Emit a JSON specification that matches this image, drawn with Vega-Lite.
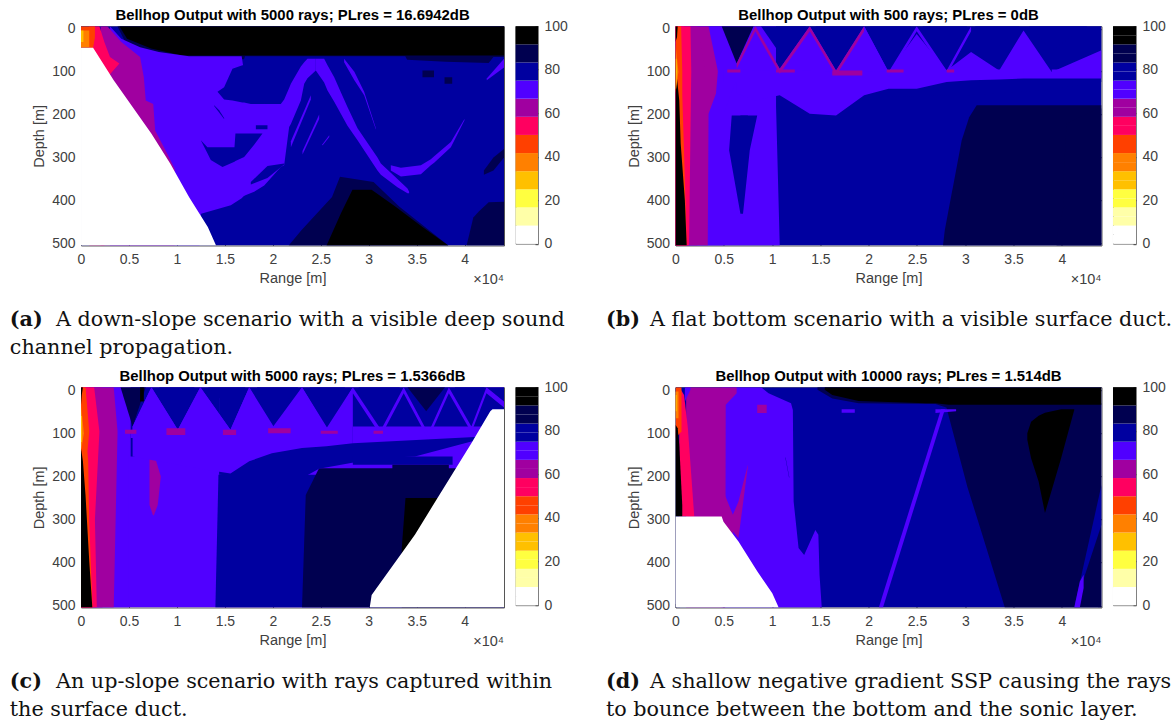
{"$schema":"https://vega.github.io/schema/vega-lite/v6.json","padding":{"left":9,"top":7.2,"right":0,"bottom":0},"background":"white","config":{"view":{"stroke":null},"font":"Liberation Sans","title":{"font":"Liberation Sans","fontSize":14.9,"fontWeight":"bold","color":"#000000","offset":-1,"anchor":"middle"},"axis":{"labelFont":"Liberation Sans","titleFont":"Liberation Sans","labelFontSize":14,"titleFontSize":14.5,"titleFontWeight":"normal","labelColor":"#404040","titleColor":"#404040","domainColor":"#555555","tickColor":"#404040","tickSize":-4,"domainWidth":1,"grid":false,"zindex":1}},
"bounds":"flush","align":"each","spacing":{"row":0,"column":11.5},"columns":5,
"datasets":{
"cb12":[{"lo":0,"hi":8.33,"v":4},{"lo":8.33,"hi":16.67,"v":12},{"lo":16.67,"hi":25,"v":21},{"lo":25,"hi":33.33,"v":29},{"lo":33.33,"hi":41.67,"v":38},{"lo":41.67,"hi":50,"v":46},{"lo":50,"hi":58.33,"v":54},{"lo":58.33,"hi":66.67,"v":62},{"lo":66.67,"hi":75,"v":71},{"lo":75,"hi":83.33,"v":79},{"lo":83.33,"hi":91.67,"v":88},{"lo":91.67,"hi":100,"v":96}],
"cb24":[{"lo":0,"hi":4.17,"v":2},{"lo":4.17,"hi":8.33,"v":6},{"lo":8.33,"hi":12.5,"v":10},{"lo":12.5,"hi":16.67,"v":15},{"lo":16.67,"hi":20.83,"v":19},{"lo":20.83,"hi":25,"v":23},{"lo":25,"hi":29.17,"v":27},{"lo":29.17,"hi":33.33,"v":31},{"lo":33.33,"hi":37.5,"v":35},{"lo":37.5,"hi":41.67,"v":40},{"lo":41.67,"hi":45.83,"v":44},{"lo":45.83,"hi":50,"v":48},{"lo":50,"hi":54.17,"v":52},{"lo":54.17,"hi":58.33,"v":56},{"lo":58.33,"hi":62.5,"v":60},{"lo":62.5,"hi":66.67,"v":65},{"lo":66.67,"hi":70.83,"v":69},{"lo":70.83,"hi":75,"v":73},{"lo":75,"hi":79.17,"v":77},{"lo":79.17,"hi":83.33,"v":81},{"lo":83.33,"hi":87.5,"v":85},{"lo":87.5,"hi":91.67,"v":90},{"lo":91.67,"hi":95.83,"v":94},{"lo":95.83,"hi":100,"v":98}],
"a":[
{"r":1,"x":0,"y":-6,"y2":505,"v":79},{"r":1,"x":44100,"y":-6,"y2":505,"v":79},
{"r":2,"x":3800,"y":-6,"y2":-6,"v":88},{"r":2,"x":4590,"y":-6,"y2":30,"v":88},{"r":2,"x":7000,"y":-6,"y2":52,"v":88},{"r":2,"x":10500,"y":-6,"y2":71,"v":88},{"r":2,"x":17000,"y":-6,"y2":71,"v":88},{"r":2,"x":17100,"y":-6,"y2":64,"v":88},{"r":2,"x":33800,"y":-6,"y2":64,"v":88},{"r":2,"x":34000,"y":-6,"y2":72,"v":88},{"r":2,"x":38000,"y":-6,"y2":77,"v":88},{"r":2,"x":42500,"y":-6,"y2":80,"v":88},{"r":2,"x":43000,"y":-6,"y2":66,"v":88},{"r":2,"x":44100,"y":-6,"y2":66,"v":88},
{"r":3,"x":4000,"y":-6,"y2":-6,"v":96},{"r":3,"x":4800,"y":-6,"y2":23,"v":96},{"r":3,"x":7300,"y":-6,"y2":46,"v":96},{"r":3,"x":10500,"y":-6,"y2":62,"v":96},{"r":3,"x":44100,"y":-6,"y2":62,"v":96},
{"r":4,"x":21650,"y":505,"y2":505,"v":88},{"r":4,"x":23000,"y":469,"y2":505,"v":88},{"r":4,"x":26170,"y":392,"y2":505,"v":88},{"r":4,"x":27000,"y":345,"y2":505,"v":88},{"r":4,"x":30500,"y":357,"y2":505,"v":88},{"r":4,"x":33200,"y":415,"y2":505,"v":88},{"r":4,"x":38300,"y":505,"y2":505,"v":88},
{"r":5,"x":25600,"y":505,"y2":505,"v":96},{"r":5,"x":27100,"y":430,"y2":505,"v":96},{"r":5,"x":28300,"y":375,"y2":505,"v":96},{"r":5,"x":30300,"y":375,"y2":505,"v":96},{"r":5,"x":32800,"y":415,"y2":505,"v":96},{"r":5,"x":35600,"y":462,"y2":505,"v":96},{"r":5,"x":38300,"y":505,"y2":505,"v":96},
{"r":6,"x":40200,"y":505,"y2":505,"v":88},{"r":6,"x":40900,"y":440,"y2":505,"v":88},{"r":6,"x":41500,"y":425,"y2":505,"v":88},{"r":6,"x":42500,"y":404,"y2":505,"v":88},{"r":6,"x":44100,"y":403,"y2":505,"v":88},
{"r":7,"x":35600,"y":97,"y2":113,"v":88},{"r":7,"x":36800,"y":97,"y2":113,"v":88},
{"r":8,"x":37900,"y":113,"y2":128,"v":88},{"r":8,"x":38700,"y":113,"y2":128,"v":88},
{"r":9,"x":42000,"y":330,"y2":340,"v":88},{"r":9,"x":43000,"y":300,"y2":330,"v":88},{"r":9,"x":44100,"y":280,"y2":300,"v":88},
{"r":10,"x":3020,"y":-6,"y2":505,"v":71},{"r":10,"x":4200,"y":23,"y2":505,"v":71},{"r":10,"x":6160,"y":43,"y2":505,"v":71},{"r":10,"x":8120,"y":54,"y2":505,"v":71},{"r":10,"x":11260,"y":64,"y2":505,"v":71},{"r":10,"x":12360,"y":64,"y2":505,"v":71},{"r":10,"x":12520,"y":64,"y2":431,"v":71},{"r":10,"x":15620,"y":64,"y2":411,"v":71},{"r":10,"x":16750,"y":64,"y2":395,"v":71},{"r":10,"x":16950,"y":93,"y2":390,"v":71},{"r":10,"x":17140,"y":97,"y2":388,"v":71},{"r":10,"x":18050,"y":130,"y2":380,"v":71},{"r":10,"x":19100,"y":175,"y2":365,"v":71},{"r":10,"x":20830,"y":175,"y2":322,"v":71},{"r":10,"x":21180,"y":165,"y2":318,"v":71},{"r":10,"x":21700,"y":138,"y2":229,"v":71},{"r":10,"x":21880,"y":128,"y2":222,"v":71},{"r":10,"x":22920,"y":88,"y2":167,"v":71},{"r":10,"x":23270,"y":78,"y2":128,"v":71},{"r":10,"x":23610,"y":70,"y2":115,"v":71},{"r":10,"x":24480,"y":70,"y2":97,"v":71},
{"r":11,"x":14230,"y":147,"y2":147,"v":79},{"r":11,"x":14920,"y":136,"y2":165,"v":79},{"r":11,"x":15790,"y":93,"y2":167,"v":79},{"r":11,"x":16830,"y":85,"y2":172,"v":79},{"r":11,"x":17000,"y":85,"y2":172,"v":79},{"r":11,"x":17700,"y":100,"y2":175,"v":79},{"r":11,"x":19100,"y":170,"y2":175,"v":79},
{"r":12,"x":18230,"y":225,"y2":234,"v":79},{"r":12,"x":19440,"y":225,"y2":234,"v":79},
{"r":13,"x":12490,"y":260,"y2":260,"v":79},{"r":13,"x":13180,"y":276,"y2":290,"v":79},{"r":13,"x":13530,"y":276,"y2":306,"v":79},{"r":13,"x":14750,"y":276,"y2":322,"v":79},{"r":13,"x":16000,"y":276,"y2":310,"v":79},{"r":13,"x":16100,"y":244,"y2":308,"v":79},{"r":13,"x":17010,"y":244,"y2":299,"v":79},{"r":13,"x":18050,"y":244,"y2":270,"v":79},{"r":13,"x":18920,"y":244,"y2":244,"v":79},
{"r":14,"x":17700,"y":357,"y2":363,"v":79},{"r":14,"x":19440,"y":320,"y2":348,"v":79},{"r":14,"x":21180,"y":314,"y2":316,"v":79},
{"r":26,"x":13880,"y":178,"y2":180,"v":79},{"r":26,"x":14400,"y":190,"y2":195,"v":79},{"r":26,"x":14920,"y":208,"y2":210,"v":79},
{"r":15,"x":24480,"y":70,"y2":97,"v":71},{"r":15,"x":25350,"y":70,"y2":125,"v":71},{"r":15,"x":25700,"y":85,"y2":144,"v":71},{"r":15,"x":26400,"y":113,"y2":170,"v":71},{"r":15,"x":27090,"y":148,"y2":198,"v":71},{"r":15,"x":27780,"y":182,"y2":226,"v":71},{"r":15,"x":28830,"y":232,"y2":260,"v":71},{"r":15,"x":30910,"y":300,"y2":330,"v":71},{"r":15,"x":31260,"y":314,"y2":340,"v":71},{"r":15,"x":32990,"y":350,"y2":369,"v":71},{"r":15,"x":34040,"y":372,"y2":383,"v":71},{"r":15,"x":34210,"y":380,"y2":383,"v":71},
{"r":16,"x":32300,"y":318,"y2":330,"v":71},{"r":16,"x":33350,"y":324,"y2":344,"v":71},{"r":16,"x":35430,"y":318,"y2":339,"v":71},{"r":16,"x":36470,"y":304,"y2":318,"v":71},{"r":16,"x":36820,"y":297,"y2":312,"v":71},{"r":16,"x":38560,"y":264,"y2":276,"v":71},{"r":16,"x":39980,"y":210,"y2":213,"v":71},
{"r":17,"x":27430,"y":70,"y2":78,"v":71},{"r":17,"x":28500,"y":100,"y2":120,"v":71},{"r":17,"x":29520,"y":147,"y2":155,"v":71},{"r":17,"x":30740,"y":232,"y2":235,"v":71},
{"r":18,"x":21880,"y":262,"y2":276,"v":71},{"r":18,"x":23960,"y":155,"y2":165,"v":71},
{"r":27,"x":23090,"y":285,"y2":293,"v":71},{"r":27,"x":24830,"y":200,"y2":210,"v":71},
{"r":28,"x":25180,"y":269,"y2":272,"v":71},{"r":28,"x":25880,"y":248,"y2":252,"v":71},
{"r":19,"x":42300,"y":116,"y2":120,"v":71},{"r":19,"x":44100,"y":70,"y2":90,"v":71},
{"r":20,"x":2040,"y":-6,"y2":505,"v":62},{"r":20,"x":2750,"y":-6,"y2":505,"v":62},{"r":20,"x":4200,"y":31,"y2":505,"v":62},{"r":20,"x":6160,"y":66,"y2":505,"v":62},{"r":20,"x":6550,"y":113,"y2":505,"v":62},{"r":20,"x":6750,"y":167,"y2":505,"v":62},{"r":20,"x":7530,"y":175,"y2":505,"v":62},{"r":20,"x":7730,"y":237,"y2":505,"v":62},{"r":20,"x":8710,"y":279,"y2":505,"v":62},{"r":20,"x":9770,"y":326,"y2":505,"v":62},
{"r":21,"x":860,"y":-6,"y2":505,"v":54},{"r":21,"x":1920,"y":-6,"y2":505,"v":54},{"r":21,"x":2430,"y":31,"y2":505,"v":54},{"r":21,"x":3020,"y":66,"y2":106,"v":54},{"r":21,"x":4000,"y":81,"y2":81,"v":54},
{"r":22,"x":0,"y":-6,"y2":44,"v":46},{"r":22,"x":1260,"y":-6,"y2":44,"v":46},{"r":22,"x":1450,"y":-6,"y2":20,"v":46},
{"r":23,"x":0,"y":4,"y2":43,"v":38},{"r":23,"x":860,"y":4,"y2":43,"v":38},
{"r":24,"x":0,"y":4,"y2":31,"v":29},{"r":24,"x":250,"y":4,"y2":31,"v":29},
{"r":25,"x":0,"y":44,"y2":505,"v":4},{"r":25,"x":1260,"y":44,"y2":505,"v":4},{"r":25,"x":3410,"y":120,"y2":505,"v":4},{"r":25,"x":7330,"y":244,"y2":505,"v":4},{"r":25,"x":9300,"y":314,"y2":505,"v":4},{"r":25,"x":11260,"y":392,"y2":505,"v":4},{"r":25,"x":13220,"y":462,"y2":505,"v":4},{"r":25,"x":14080,"y":505,"y2":505,"v":4}
],
"b_h":[
{"r":1,"y":-6,"x":0,"x2":44100,"v":81},{"r":1,"y":505,"x":0,"x2":44100,"v":81},
{"r":2,"y":178,"x":31180,"x2":44100,"v":85},{"r":2,"y":206,"x":30400,"x2":44100,"v":85},{"r":2,"y":260,"x":29630,"x2":44100,"v":85},{"r":2,"y":469,"x":27880,"x2":44100,"v":85},{"r":2,"y":505,"x":27690,"x2":44100,"v":85},
{"r":3,"y":186,"x":43800,"x2":44100,"v":90},{"r":3,"y":221,"x":40500,"x2":44100,"v":90},{"r":3,"y":369,"x":40110,"x2":44100,"v":90},{"r":3,"y":415,"x":40230,"x2":44100,"v":90},{"r":3,"y":477,"x":39530,"x2":44100,"v":90},{"r":3,"y":505,"x":39450,"x2":44100,"v":90},
{"r":4,"y":-6,"x":0,"x2":10410,"v":73},{"r":4,"y":181,"x":0,"x2":10410,"v":73},{"r":4,"y":505,"x":0,"x2":10790,"v":73},
{"r":5,"y":202,"x":5820,"x2":8460,"v":77},{"r":5,"y":283,"x":5550,"x2":7690,"v":77},{"r":5,"y":431,"x":6720,"x2":6990,"v":77},
{"r":6,"y":202,"x":6720,"x2":7490,"v":81},{"r":6,"y":283,"x":6800,"x2":7490,"v":81},{"r":6,"y":290,"x":7100,"x2":7200,"v":81},
{"r":7,"y":-6,"x":0,"x2":4780,"v":69},{"r":7,"y":99,"x":0,"x2":6520,"v":69},{"r":7,"y":128,"x":0,"x2":6140,"v":69},{"r":7,"y":198,"x":0,"x2":4970,"v":69},{"r":7,"y":505,"x":0,"x2":4970,"v":69},
{"r":8,"y":-6,"x":0,"x2":3420,"v":65},{"r":8,"y":99,"x":0,"x2":4390,"v":65},{"r":8,"y":151,"x":0,"x2":4190,"v":65},{"r":8,"y":198,"x":0,"x2":3420,"v":65},{"r":8,"y":505,"x":0,"x2":3340,"v":65},
{"r":9,"y":-6,"x":0,"x2":2250,"v":60},{"r":9,"y":99,"x":0,"x2":3030,"v":60},{"r":9,"y":505,"x":0,"x2":2250,"v":60},
{"r":10,"y":-6,"x":0,"x2":1550,"v":56},{"r":10,"y":99,"x":0,"x2":1630,"v":56},{"r":10,"y":505,"x":0,"x2":1400,"v":56},
{"r":11,"y":-6,"x":0,"x2":890,"v":52},{"r":11,"y":99,"x":0,"x2":1090,"v":52},{"r":11,"y":260,"x":0,"x2":1090,"v":52},{"r":11,"y":505,"x":0,"x2":1200,"v":52},
{"r":12,"y":-6,"x":0,"x2":580,"v":48},{"r":12,"y":99,"x":0,"x2":700,"v":48},{"r":12,"y":155,"x":0,"x2":700,"v":48},{"r":12,"y":260,"x":0,"x2":850,"v":48},{"r":12,"y":505,"x":0,"x2":1170,"v":48},
{"r":13,"y":-6,"x":0,"x2":230,"v":98},{"r":13,"y":19,"x":0,"x2":160,"v":98},{"r":13,"y":31,"x":0,"x2":0,"v":98},{"r":13,"y":89,"x":0,"x2":40,"v":98},{"r":13,"y":167,"x":0,"x2":390,"v":98},{"r":13,"y":268,"x":0,"x2":540,"v":98},{"r":13,"y":400,"x":0,"x2":970,"v":98},{"r":13,"y":505,"x":0,"x2":1160,"v":98},
{"r":14,"y":35,"x":0,"x2":0,"v":35},{"r":14,"y":100,"x":0,"x2":300,"v":35},{"r":14,"y":150,"x":0,"x2":0,"v":35},
{"r":15,"y":70,"x":0,"x2":100,"v":27},{"r":15,"y":100,"x":0,"x2":150,"v":27},{"r":15,"y":140,"x":0,"x2":60,"v":27}
],
"b_v":[
{"r":1,"x":10410,"y":-6,"y2":155,"v":77},{"r":1,"x":14290,"y":-6,"y2":198,"v":77},{"r":1,"x":16620,"y":-6,"y2":202,"v":77},{"r":1,"x":18370,"y":-6,"y2":159,"v":77},{"r":1,"x":30210,"y":-6,"y2":155,"v":77},{"r":1,"x":37980,"y":-6,"y2":144,"v":77},{"r":1,"x":44100,"y":-6,"y2":124,"v":77},
{"r":2,"x":6330,"y":81,"y2":151,"v":73},{"r":2,"x":8270,"y":-6,"y2":167,"v":73},{"r":2,"x":10790,"y":93,"y2":155,"v":73},{"r":2,"x":13900,"y":-6,"y2":198,"v":73},{"r":2,"x":16620,"y":97,"y2":202,"v":73},{"r":2,"x":19530,"y":-6,"y2":155,"v":73},{"r":2,"x":22060,"y":101,"y2":140,"v":73},{"r":2,"x":24970,"y":12,"y2":140,"v":73},{"r":2,"x":28070,"y":97,"y2":124,"v":73},{"r":2,"x":30600,"y":54,"y2":120,"v":73},{"r":2,"x":33510,"y":97,"y2":118,"v":73},{"r":2,"x":36030,"y":4,"y2":116,"v":73},{"r":2,"x":38950,"y":101,"y2":116,"v":73},{"r":2,"x":44100,"y":50,"y2":116,"v":73},
{"r":3,"x":4780,"y":-6,"y2":-6,"v":85},{"r":3,"x":6330,"y":-6,"y2":81,"v":85},{"r":3,"x":8080,"y":-6,"y2":-6,"v":85},
{"r":4,"x":8850,"y":-6,"y2":-6,"v":81},{"r":4,"x":11180,"y":-6,"y2":70,"v":81},{"r":4,"x":13510,"y":-6,"y2":-6,"v":81},
{"r":5,"x":14480,"y":-6,"y2":-6,"v":81},{"r":5,"x":16620,"y":-6,"y2":50,"v":81},{"r":5,"x":19140,"y":-6,"y2":-6,"v":81},
{"r":6,"x":20110,"y":-6,"y2":-6,"v":81},{"r":6,"x":22060,"y":-6,"y2":50,"v":81},{"r":6,"x":24390,"y":-6,"y2":-6,"v":81},
{"r":7,"x":25550,"y":-6,"y2":-6,"v":81},{"r":7,"x":28070,"y":-6,"y2":50,"v":81},{"r":7,"x":30210,"y":-6,"y2":-6,"v":81},
{"r":8,"x":30990,"y":-6,"y2":-6,"v":81},{"r":8,"x":33510,"y":-6,"y2":40,"v":81},{"r":8,"x":35650,"y":-6,"y2":-6,"v":81},
{"r":9,"x":36610,"y":-6,"y2":-6,"v":81},{"r":9,"x":38950,"y":-6,"y2":50,"v":81},{"r":9,"x":42640,"y":-6,"y2":-6,"v":81},
{"r":10,"x":4970,"y":95,"y2":124,"v":69},{"r":10,"x":22440,"y":101,"y2":124,"v":69},{"r":10,"x":24000,"y":101,"y2":108,"v":69},
{"r":11,"x":6330,"y":81,"y2":93,"v":65},{"r":11,"x":8270,"y":-6,"y2":6,"v":65},{"r":11,"x":10790,"y":93,"y2":105,"v":65},{"r":11,"x":13900,"y":-6,"y2":6,"v":65},{"r":11,"x":16620,"y":97,"y2":109,"v":65},{"r":11,"x":19530,"y":-6,"y2":6,"v":65},
{"r":12,"x":19530,"y":-6,"y2":6,"v":69},{"r":12,"x":22060,"y":101,"y2":113,"v":69},{"r":12,"x":24970,"y":-6,"y2":6,"v":69},{"r":12,"x":28070,"y":97,"y2":109,"v":69},{"r":12,"x":30600,"y":-6,"y2":6,"v":69},
{"r":13,"x":5360,"y":95,"y2":102,"v":60},{"r":13,"x":6720,"y":95,"y2":102,"v":60},
{"r":14,"x":10410,"y":95,"y2":102,"v":65},{"r":14,"x":12350,"y":95,"y2":102,"v":65},
{"r":15,"x":16230,"y":97,"y2":109,"v":65},{"r":15,"x":19340,"y":97,"y2":109,"v":65},
{"r":16,"x":21860,"y":95,"y2":102,"v":65},{"r":16,"x":23610,"y":95,"y2":102,"v":65},
{"r":17,"x":28070,"y":95,"y2":102,"v":65},{"r":17,"x":28850,"y":95,"y2":102,"v":65},
{"r":18,"x":33120,"y":95,"y2":102,"v":69},{"r":18,"x":36030,"y":95,"y2":102,"v":69},
{"r":19,"x":38950,"y":95,"y2":102,"v":69},{"r":19,"x":40690,"y":95,"y2":102,"v":69}
],
"c_h":[
{"r":1,"y":-7,"x":0,"x2":44100,"v":73},{"r":1,"y":504,"x":0,"x2":44100,"v":73},
{"r":2,"y":196,"x":14330,"x2":44100,"v":81},{"r":2,"y":504,"x":14010,"x2":44100,"v":81},
{"r":3,"y":181,"x":24810,"x2":44100,"v":85},{"r":3,"y":243,"x":23430,"x2":44100,"v":85},{"r":3,"y":504,"x":23040,"x2":44100,"v":85},
{"r":4,"y":235,"x":30100,"x2":44100,"v":90},{"r":4,"y":504,"x":30030,"x2":44100,"v":90},
{"r":5,"y":250,"x":33830,"x2":44100,"v":94},{"r":5,"y":366,"x":33440,"x2":44100,"v":94},{"r":5,"y":504,"x":33440,"x2":44100,"v":94},
{"r":6,"y":250,"x":35400,"x2":44100,"v":98},{"r":6,"y":300,"x":35400,"x2":44100,"v":98},
{"r":7,"y":-7,"x":0,"x2":4200,"v":69},{"r":7,"y":96,"x":0,"x2":5180,"v":69},{"r":7,"y":154,"x":0,"x2":4980,"v":69},{"r":7,"y":504,"x":0,"x2":4980,"v":69},
{"r":8,"y":142,"x":7140,"x2":7540,"v":65},{"r":8,"y":200,"x":7140,"x2":8320,"v":65},{"r":8,"y":266,"x":7140,"x2":8000,"v":65},{"r":8,"y":290,"x":7500,"x2":7600,"v":65},
{"r":9,"y":-7,"x":0,"x2":3410,"v":65},{"r":9,"y":96,"x":0,"x2":3810,"v":65},{"r":9,"y":504,"x":0,"x2":3410,"v":65},
{"r":10,"y":-7,"x":0,"x2":2240,"v":60},{"r":10,"y":96,"x":0,"x2":2630,"v":60},{"r":10,"y":504,"x":0,"x2":2240,"v":60},
{"r":11,"y":-7,"x":0,"x2":1370,"v":56},{"r":11,"y":96,"x":0,"x2":1920,"v":56},{"r":11,"y":300,"x":0,"x2":1450,"v":56},{"r":11,"y":504,"x":0,"x2":1650,"v":56},
{"r":12,"y":-7,"x":0,"x2":860,"v":52},{"r":12,"y":96,"x":0,"x2":1370,"v":52},{"r":12,"y":165,"x":0,"x2":1260,"v":52},{"r":12,"y":504,"x":0,"x2":1260,"v":52},
{"r":13,"y":-7,"x":0,"x2":470,"v":48},{"r":13,"y":96,"x":0,"x2":860,"v":48},{"r":13,"y":142,"x":0,"x2":670,"v":48},{"r":13,"y":165,"x":0,"x2":750,"v":48},{"r":13,"y":300,"x":0,"x2":850,"v":48},{"r":13,"y":504,"x":0,"x2":1200,"v":48},
{"r":14,"y":-7,"x":0,"x2":200,"v":98},{"r":14,"y":11,"x":0,"x2":80,"v":98},{"r":14,"y":34,"x":0,"x2":0,"v":98},{"r":14,"y":134,"x":0,"x2":0,"v":98},{"r":14,"y":165,"x":0,"x2":200,"v":98},{"r":14,"y":243,"x":0,"x2":470,"v":98},{"r":14,"y":397,"x":0,"x2":860,"v":98},{"r":14,"y":504,"x":0,"x2":1180,"v":98},
{"r":15,"y":34,"x":0,"x2":0,"v":35},{"r":15,"y":100,"x":0,"x2":300,"v":35},{"r":15,"y":142,"x":0,"x2":0,"v":35},
{"r":16,"y":60,"x":0,"x2":100,"v":27},{"r":16,"y":120,"x":0,"x2":100,"v":27}
],
"c_v":[
{"r":1,"x":14400,"y":-7,"y2":196,"v":77},{"r":1,"x":16760,"y":-7,"y2":200,"v":77},{"r":1,"x":18720,"y":-7,"y2":231,"v":77},{"r":1,"x":20290,"y":-7,"y2":227,"v":77},{"r":1,"x":23040,"y":-7,"y2":204,"v":77},{"r":1,"x":24810,"y":-7,"y2":182,"v":77},{"r":1,"x":30890,"y":-7,"y2":158,"v":77},{"r":1,"x":34810,"y":-7,"y2":154,"v":77},{"r":1,"x":40700,"y":-7,"y2":119,"v":77},{"r":1,"x":44100,"y":-7,"y2":119,"v":77},
{"r":2,"x":5180,"y":-7,"y2":154,"v":77},{"r":2,"x":14400,"y":-7,"y2":154,"v":77},
{"r":3,"x":28340,"y":154,"y2":173,"v":81},{"r":3,"x":38740,"y":154,"y2":173,"v":81},
{"r":4,"x":32460,"y":173,"y2":196,"v":85},{"r":4,"x":38350,"y":173,"y2":196,"v":85},
{"r":5,"x":36000,"y":196,"y2":227,"v":90},{"r":5,"x":38740,"y":196,"y2":227,"v":90},
{"r":6,"x":5380,"y":84,"y2":154,"v":73},{"r":6,"x":7340,"y":-7,"y2":162,"v":73},{"r":6,"x":10090,"y":92,"y2":173,"v":73},{"r":6,"x":12440,"y":-7,"y2":182,"v":73},{"r":6,"x":15580,"y":92,"y2":193,"v":73},{"r":6,"x":17540,"y":-7,"y2":165,"v":73},{"r":6,"x":19900,"y":88,"y2":146,"v":73},{"r":6,"x":23040,"y":-7,"y2":134,"v":73},{"r":6,"x":25590,"y":88,"y2":130,"v":73},{"r":6,"x":28340,"y":-7,"y2":123,"v":73},
{"r":7,"x":28340,"y":84,"y2":123,"v":73},{"r":7,"x":44100,"y":84,"y2":105,"v":73},
{"r":8,"x":4120,"y":-7,"y2":-7,"v":85},{"r":8,"x":5380,"y":-7,"y2":84,"v":85},{"r":8,"x":6750,"y":-7,"y2":-7,"v":85},
{"r":9,"x":6160,"y":-7,"y2":26,"v":98},{"r":9,"x":6550,"y":-7,"y2":26,"v":98},
{"r":10,"x":8120,"y":-7,"y2":-7,"v":81},{"r":10,"x":10090,"y":-7,"y2":34,"v":81},{"r":10,"x":11850,"y":-7,"y2":-7,"v":81},
{"r":11,"x":13230,"y":-7,"y2":-7,"v":81},{"r":11,"x":15190,"y":-7,"y2":34,"v":81},{"r":11,"x":17150,"y":-7,"y2":-7,"v":81},
{"r":12,"x":18330,"y":-7,"y2":-7,"v":81},{"r":12,"x":20290,"y":-7,"y2":57,"v":81},{"r":12,"x":22650,"y":-7,"y2":-7,"v":81},
{"r":13,"x":23820,"y":-7,"y2":-7,"v":81},{"r":13,"x":25590,"y":-7,"y2":42,"v":81},{"r":13,"x":27550,"y":-7,"y2":-7,"v":81},
{"r":14,"x":28930,"y":-7,"y2":-7,"v":81},{"r":14,"x":31090,"y":-7,"y2":65,"v":81},{"r":14,"x":33240,"y":-7,"y2":-7,"v":81},
{"r":15,"x":34030,"y":-7,"y2":-7,"v":85},{"r":15,"x":35990,"y":-7,"y2":49,"v":85},{"r":15,"x":37950,"y":-7,"y2":-7,"v":85},
{"r":16,"x":38940,"y":-7,"y2":-7,"v":81},{"r":16,"x":40700,"y":-7,"y2":42,"v":81},{"r":16,"x":42080,"y":-7,"y2":-7,"v":81},
{"r":17,"x":5180,"y":92,"y2":111,"v":69},{"r":17,"x":23000,"y":92,"y2":111,"v":69},
{"r":18,"x":5380,"y":84,"y2":98,"v":69},{"r":18,"x":7340,"y":-7,"y2":7,"v":69},{"r":18,"x":10090,"y":92,"y2":106,"v":69},{"r":18,"x":12440,"y":-7,"y2":7,"v":69},{"r":18,"x":15580,"y":92,"y2":106,"v":69},{"r":18,"x":17540,"y":-7,"y2":7,"v":69},{"r":18,"x":20290,"y":92,"y2":106,"v":69},{"r":18,"x":23040,"y":-7,"y2":7,"v":69},{"r":18,"x":25790,"y":92,"y2":106,"v":69},{"r":18,"x":28340,"y":-7,"y2":7,"v":69},
{"r":19,"x":28340,"y":-7,"y2":7,"v":73},{"r":19,"x":31280,"y":92,"y2":106,"v":73},{"r":19,"x":33640,"y":-7,"y2":7,"v":73},{"r":19,"x":36190,"y":100,"y2":114,"v":73},{"r":19,"x":38350,"y":-7,"y2":7,"v":73},{"r":19,"x":40700,"y":84,"y2":98,"v":73},{"r":19,"x":42270,"y":-7,"y2":7,"v":73},{"r":19,"x":44100,"y":26,"y2":40,"v":73},
{"r":20,"x":4590,"y":92,"y2":101,"v":65},{"r":20,"x":5770,"y":92,"y2":101,"v":65},
{"r":21,"x":8910,"y":88,"y2":104,"v":65},{"r":21,"x":10870,"y":88,"y2":104,"v":65},
{"r":22,"x":14800,"y":92,"y2":104,"v":65},{"r":22,"x":16170,"y":92,"y2":104,"v":65},
{"r":23,"x":19510,"y":88,"y2":100,"v":65},{"r":23,"x":21860,"y":88,"y2":100,"v":65},
{"r":24,"x":25000,"y":94,"y2":101,"v":65},{"r":24,"x":26770,"y":94,"y2":101,"v":65},
{"r":25,"x":30500,"y":94,"y2":101,"v":65},{"r":25,"x":31480,"y":94,"y2":101,"v":65},
{"r":26,"x":30100,"y":504,"y2":504,"v":2},{"r":26,"x":30300,"y":475,"y2":504,"v":2},{"r":26,"x":34810,"y":335,"y2":504,"v":2},{"r":26,"x":36780,"y":264,"y2":504,"v":2},{"r":26,"x":40700,"y":123,"y2":504,"v":2},{"r":26,"x":42670,"y":49,"y2":504,"v":2},{"r":26,"x":42900,"y":44,"y2":504,"v":2},{"r":26,"x":44100,"y":44,"y2":504,"v":2}
],
"d":[
{"r":1,"x":0,"y":-7,"y2":504,"v":79},{"r":1,"x":44100,"y":-7,"y2":504,"v":79},
{"r":2,"x":14700,"y":-7,"y2":-1,"v":88},{"r":2,"x":16230,"y":-7,"y2":19,"v":88},{"r":2,"x":18950,"y":-7,"y2":30,"v":88},{"r":2,"x":26910,"y":-7,"y2":32,"v":88},{"r":2,"x":28270,"y":-7,"y2":42,"v":88},
{"r":3,"x":28070,"y":30,"y2":42,"v":88},{"r":3,"x":30210,"y":30,"y2":224,"v":88},{"r":3,"x":31760,"y":30,"y2":335,"v":88},{"r":3,"x":34090,"y":30,"y2":504,"v":88},{"r":3,"x":44100,"y":30,"y2":504,"v":88},
{"r":4,"x":15450,"y":-7,"y2":-1,"v":96},{"r":4,"x":16230,"y":-7,"y2":11,"v":96},{"r":4,"x":18950,"y":-7,"y2":25,"v":96},{"r":4,"x":25940,"y":-7,"y2":30,"v":96},{"r":4,"x":26910,"y":-7,"y2":30,"v":96},{"r":4,"x":28270,"y":-7,"y2":34,"v":96},{"r":4,"x":44100,"y":-7,"y2":34,"v":96},
{"r":5,"x":36420,"y":100,"y2":115,"v":96},{"r":5,"x":36810,"y":73,"y2":158,"v":96},{"r":5,"x":37590,"y":59,"y2":212,"v":96},{"r":5,"x":38250,"y":52,"y2":285,"v":96},{"r":5,"x":39920,"y":44,"y2":158,"v":96},{"r":5,"x":41280,"y":44,"y2":46,"v":96},
{"r":6,"x":41280,"y":504,"y2":504,"v":79},{"r":6,"x":44100,"y":220,"y2":312,"v":79},
{"r":7,"x":41280,"y":504,"y2":504,"v":71},{"r":7,"x":41860,"y":444,"y2":504,"v":71},{"r":7,"x":42250,"y":428,"y2":459,"v":71},
{"r":8,"x":4780,"y":-7,"y2":504,"v":71},{"r":8,"x":8850,"y":-7,"y2":504,"v":71},{"r":8,"x":9630,"y":7,"y2":504,"v":71},{"r":8,"x":11960,"y":30,"y2":504,"v":71},{"r":8,"x":12150,"y":46,"y2":504,"v":71},{"r":8,"x":12230,"y":258,"y2":504,"v":71},{"r":8,"x":12740,"y":366,"y2":504,"v":71},{"r":8,"x":13320,"y":382,"y2":504,"v":71},{"r":8,"x":14480,"y":324,"y2":504,"v":71},{"r":8,"x":14790,"y":335,"y2":504,"v":71},{"r":8,"x":14910,"y":428,"y2":504,"v":71},{"r":8,"x":15140,"y":504,"y2":504,"v":71},
{"r":9,"x":11380,"y":154,"y2":158,"v":79},{"r":9,"x":11770,"y":200,"y2":204,"v":79},
{"r":10,"x":21080,"y":502,"y2":504,"v":71},{"r":10,"x":21480,"y":473,"y2":504,"v":71},{"r":10,"x":27490,"y":44,"y2":73,"v":71},{"r":10,"x":27880,"y":44,"y2":45,"v":71},
{"r":11,"x":26910,"y":44,"y2":53,"v":71},{"r":11,"x":29050,"y":44,"y2":49,"v":71},
{"r":12,"x":17200,"y":44,"y2":52,"v":71},{"r":12,"x":18560,"y":44,"y2":52,"v":71},
{"r":13,"x":1100,"y":-7,"y2":504,"v":62},{"r":13,"x":5160,"y":-7,"y2":504,"v":62},{"r":13,"x":5200,"y":-7,"y2":34,"v":62},{"r":13,"x":6330,"y":-7,"y2":7,"v":62},
{"r":14,"x":4970,"y":235,"y2":504,"v":62},{"r":14,"x":5940,"y":289,"y2":328,"v":62},{"r":14,"x":6520,"y":258,"y2":343,"v":62},{"r":14,"x":7490,"y":173,"y2":177,"v":62},
{"r":15,"x":8460,"y":34,"y2":53,"v":62},{"r":15,"x":9440,"y":34,"y2":53,"v":62},
{"r":16,"x":390,"y":-7,"y2":293,"v":54},{"r":16,"x":890,"y":11,"y2":293,"v":54},{"r":16,"x":1280,"y":88,"y2":293,"v":54},{"r":16,"x":1940,"y":293,"y2":293,"v":54},
{"r":17,"x":970,"y":-7,"y2":26,"v":71},{"r":17,"x":1550,"y":-7,"y2":-1,"v":71},
{"r":18,"x":0,"y":-7,"y2":111,"v":46},{"r":18,"x":620,"y":-7,"y2":96,"v":46},
{"r":19,"x":0,"y":3,"y2":65,"v":38},{"r":19,"x":310,"y":3,"y2":65,"v":38},
{"r":20,"x":0,"y":11,"y2":49,"v":29},{"r":20,"x":120,"y":11,"y2":49,"v":29},
{"r":21,"x":0,"y":80,"y2":293,"v":96},{"r":21,"x":230,"y":88,"y2":293,"v":96},{"r":21,"x":390,"y":127,"y2":293,"v":96},{"r":21,"x":700,"y":266,"y2":293,"v":96},
{"r":22,"x":0,"y":293,"y2":504,"v":4},{"r":22,"x":4780,"y":293,"y2":504,"v":4},{"r":22,"x":4970,"y":305,"y2":504,"v":4},{"r":22,"x":6520,"y":351,"y2":504,"v":4},{"r":22,"x":8460,"y":420,"y2":504,"v":4},{"r":22,"x":10020,"y":471,"y2":504,"v":4},{"r":22,"x":10680,"y":504,"y2":504,"v":4}
]
},
"concat":[
{"title":"Bellhop Output with 5000 rays; PLres = 16.6942dB","width":423,"height":219.3,"resolve":{"axis":{"x":"independent","y":"independent"}},"layer":[
{"data":{"name":"a"},"mark":{"type":"area","clip":true},"encoding":{"x":{"field":"x","type":"quantitative","scale":{"domain":[0,44100],"nice":false,"zero":false},"axis":{"values":[0,5000,10000,15000,20000,25000,30000,35000,40000],"labelExpr":"datum.value/10000","title":"Range [m]","labelPadding":11,"titlePadding":5,"labelFlush":false}},"y":{"field":"y","type":"quantitative","scale":{"domain":[-6,505],"reverse":true,"nice":false,"zero":false},"axis":{"values":[0,100,200,300,400,500],"title":"Depth [m]","labelPadding":10,"titlePadding":5}},"y2":{"field":"y2"},"detail":{"field":"r"},"color":{"field":"v","type":"quantitative","scale":{"type":"quantize","domain":[0,100],"nice":false,"range":["#ffffff","#ffffa8","#ffff40","#ffc000","#ff8000","#ff4000","#ff0060","#a000a0","#5000ff","#0000a0","#000050","#000000"]},"legend":null}}},
{"data":{"values":[]},"mark":"rect","encoding":{"x":{"field":"x","type":"quantitative","axis":{"orient":"top","values":[0,5000,10000,15000,20000,25000,30000,35000,40000],"labels":false,"title":null}},"y":{"field":"y","type":"quantitative","axis":{"orient":"right","values":[0,100,200,300,400,500],"labels":false,"title":null}}}},
{"data":{"values":[{"x":44100,"y":505,"t":"×10⁴"}]},"mark":{"type":"text","align":"right","baseline":"middle","dy":35,"font":"Liberation Sans","fontSize":14.5,"color":"#404040"},"encoding":{"x":{"field":"x","type":"quantitative","axis":null},"y":{"field":"y","type":"quantitative","axis":null},"text":{"field":"t"}}}
]},
{"width":22.5,"height":217.5,"view":{"stroke":"#808080"},"data":{"name":"cb12"},"mark":"rect","encoding":{"y":{"field":"lo","type":"quantitative","scale":{"domain":[0,100],"nice":false},"axis":{"orient":"right","values":[0,20,40,60,80,100],"title":null,"domain":false,"tickSize":-3,"labelPadding":9}},"y2":{"field":"hi"},"color":{"field":"v","type":"quantitative","scale":{"type":"quantize","domain":[0,100],"nice":false,"range":["#ffffff","#ffffa8","#ffff40","#ffc000","#ff8000","#ff4000","#ff0060","#a000a0","#5000ff","#0000a0","#000050","#000000"]},"legend":null}}},
{"width":113.1,"height":1,"data":{"values":[{"a":0}]},"mark":{"type":"point","opacity":0},"encoding":{}},
{"title":"Bellhop Output with 500 rays; PLres = 0dB","width":426,"height":219.3,"resolve":{"axis":{"x":"independent","y":"independent"}},"layer":[
{"data":{"name":"b_h"},"mark":{"type":"area","orient":"horizontal","clip":true},"encoding":{"y":{"field":"y","type":"quantitative","scale":{"domain":[-6,505],"reverse":true,"nice":false,"zero":false},"axis":{"values":[0,100,200,300,400,500],"title":"Depth [m]","labelPadding":10,"titlePadding":5}},"x":{"field":"x","type":"quantitative","scale":{"domain":[0,44100],"nice":false,"zero":false},"axis":{"values":[0,5000,10000,15000,20000,25000,30000,35000,40000],"labelExpr":"datum.value/10000","title":"Range [m]","labelPadding":11,"titlePadding":5,"labelFlush":false}},"x2":{"field":"x2"},"detail":{"field":"r"},"color":{"field":"v","type":"quantitative","scale":{"type":"quantize","domain":[0,100],"nice":false,"range":["#ffffff","#fffff0","#ffffb0","#ffff80","#ffff40","#ffe020","#ffc000","#ffa000","#ff8000","#ff6000","#ff4000","#ff2010","#ff0040","#d00070","#a000a0","#7000c0","#4000f0","#2000ff","#0000e8","#0000c0","#00009c","#000078","#000048","#000010"]},"legend":null}}},
{"data":{"name":"b_v"},"mark":{"type":"area","clip":true},"encoding":{"x":{"field":"x","type":"quantitative","axis":null},"y":{"field":"y","type":"quantitative","axis":null},"y2":{"field":"y2"},"detail":{"field":"r"},"color":{"field":"v","type":"quantitative","scale":{"type":"quantize","domain":[0,100],"nice":false,"range":["#ffffff","#fffff0","#ffffb0","#ffff80","#ffff40","#ffe020","#ffc000","#ffa000","#ff8000","#ff6000","#ff4000","#ff2010","#ff0040","#d00070","#a000a0","#7000c0","#4000f0","#2000ff","#0000e8","#0000c0","#00009c","#000078","#000048","#000010"]},"legend":null}}},
{"data":{"values":[]},"mark":"rect","encoding":{"x":{"field":"x","type":"quantitative","axis":{"orient":"top","values":[0,5000,10000,15000,20000,25000,30000,35000,40000],"labels":false,"title":null}},"y":{"field":"y","type":"quantitative","axis":{"orient":"right","values":[0,100,200,300,400,500],"labels":false,"title":null}}}},
{"data":{"values":[{"x":44100,"y":505,"t":"×10⁴"}]},"mark":{"type":"text","align":"right","baseline":"middle","dy":35,"font":"Liberation Sans","fontSize":14.5,"color":"#404040"},"encoding":{"x":{"field":"x","type":"quantitative","axis":null},"y":{"field":"y","type":"quantitative","axis":null},"text":{"field":"t"}}}
]},
{"width":23,"height":217.5,"view":{"stroke":"#808080"},"data":{"name":"cb24"},"mark":"rect","encoding":{"y":{"field":"lo","type":"quantitative","scale":{"domain":[0,100],"nice":false},"axis":{"orient":"right","values":[0,20,40,60,80,100],"title":null,"domain":false,"tickSize":-3,"labelPadding":9}},"y2":{"field":"hi"},"color":{"field":"v","type":"quantitative","scale":{"type":"quantize","domain":[0,100],"nice":false,"range":["#ffffff","#fffff0","#ffffb0","#ffff80","#ffff40","#ffe020","#ffc000","#ffa000","#ff8000","#ff6000","#ff4000","#ff2010","#ff0040","#d00070","#a000a0","#7000c0","#4000f0","#2000ff","#0000e8","#0000c0","#00009c","#000078","#000048","#000010"]},"legend":null}}},
{"width":423,"height":140.7,"data":{"values":[{"line":1,"part":1,"s":"(a)","b":1},{"line":1,"part":2,"s":"A down-slope scenario with a visible deep sound","b":0},{"line":2,"part":1,"s":"channel propagation.","b":0}]},"layer":[{"transform":[{"filter":"datum.b==1"}],"mark":{"type":"text","font":"DejaVu Serif","fontSize":20.7,"fontWeight":"bold","align":"left","baseline":"alphabetic","color":"#111111"},"encoding":{"x":{"field":"part","type":"quantitative","scale":{"domain":[1,2],"range":[-71.2,-25],"nice":false,"zero":false},"axis":null},"y":{"field":"line","type":"quantitative","scale":{"domain":[1,2],"range":[80,108],"nice":false,"zero":false},"axis":null},"text":{"field":"s"}}},{"transform":[{"filter":"datum.b==0"}],"mark":{"type":"text","font":"DejaVu Serif","fontSize":20.7,"align":"left","baseline":"alphabetic","color":"#111111"},"encoding":{"x":{"field":"part","type":"quantitative","axis":null},"y":{"field":"line","type":"quantitative","axis":null},"text":{"field":"s"}}}]},
{"width":1,"height":1,"data":{"values":[{"a":0}]},"mark":{"type":"point","opacity":0},"encoding":{}},
{"width":1,"height":1,"data":{"values":[{"a":0}]},"mark":{"type":"point","opacity":0},"encoding":{}},
{"width":426,"height":140.7,"data":{"values":[{"line":1,"part":1,"s":"(b)","b":1},{"line":1,"part":2,"s":"A flat bottom scenario with a visible surface duct.","b":0}]},"layer":[{"transform":[{"filter":"datum.b==1"}],"mark":{"type":"text","font":"DejaVu Serif","fontSize":20.7,"fontWeight":"bold","align":"left","baseline":"alphabetic","color":"#111111"},"encoding":{"x":{"field":"part","type":"quantitative","scale":{"domain":[1,2],"range":[-69.5,-25.5],"nice":false,"zero":false},"axis":null},"y":{"field":"line","type":"quantitative","scale":{"domain":[1,2],"range":[80,108],"nice":false,"zero":false},"axis":null},"text":{"field":"s"}}},{"transform":[{"filter":"datum.b==0"}],"mark":{"type":"text","font":"DejaVu Serif","fontSize":20.7,"align":"left","baseline":"alphabetic","color":"#111111"},"encoding":{"x":{"field":"part","type":"quantitative","axis":null},"y":{"field":"line","type":"quantitative","axis":null},"text":{"field":"s"}}}]},
{"width":1,"height":1,"data":{"values":[{"a":0}]},"mark":{"type":"point","opacity":0},"encoding":{}},
{"title":"Bellhop Output with 5000 rays; PLres = 1.5366dB","width":423,"height":220.3,"resolve":{"axis":{"x":"independent","y":"independent"}},"layer":[
{"data":{"name":"c_h"},"mark":{"type":"area","orient":"horizontal","clip":true},"encoding":{"y":{"field":"y","type":"quantitative","scale":{"domain":[-7,504],"reverse":true,"nice":false,"zero":false},"axis":{"values":[0,100,200,300,400,500],"title":"Depth [m]","labelPadding":10,"titlePadding":5}},"x":{"field":"x","type":"quantitative","scale":{"domain":[0,44100],"nice":false,"zero":false},"axis":{"values":[0,5000,10000,15000,20000,25000,30000,35000,40000],"labelExpr":"datum.value/10000","title":"Range [m]","labelPadding":11,"titlePadding":5,"labelFlush":false}},"x2":{"field":"x2"},"detail":{"field":"r"},"color":{"field":"v","type":"quantitative","scale":{"type":"quantize","domain":[0,100],"nice":false,"range":["#ffffff","#fffff0","#ffffb0","#ffff80","#ffff40","#ffe020","#ffc000","#ffa000","#ff8000","#ff6000","#ff4000","#ff2010","#ff0040","#d00070","#a000a0","#7000c0","#4000f0","#2000ff","#0000e8","#0000c0","#00009c","#000078","#000048","#000010"]},"legend":null}}},
{"data":{"name":"c_v"},"mark":{"type":"area","clip":true},"encoding":{"x":{"field":"x","type":"quantitative","axis":null},"y":{"field":"y","type":"quantitative","axis":null},"y2":{"field":"y2"},"detail":{"field":"r"},"color":{"field":"v","type":"quantitative","scale":{"type":"quantize","domain":[0,100],"nice":false,"range":["#ffffff","#fffff0","#ffffb0","#ffff80","#ffff40","#ffe020","#ffc000","#ffa000","#ff8000","#ff6000","#ff4000","#ff2010","#ff0040","#d00070","#a000a0","#7000c0","#4000f0","#2000ff","#0000e8","#0000c0","#00009c","#000078","#000048","#000010"]},"legend":null}}},
{"data":{"values":[]},"mark":"rect","encoding":{"x":{"field":"x","type":"quantitative","axis":{"orient":"top","values":[0,5000,10000,15000,20000,25000,30000,35000,40000],"labels":false,"title":null}},"y":{"field":"y","type":"quantitative","axis":{"orient":"right","values":[0,100,200,300,400,500],"labels":false,"title":null}}}},
{"data":{"values":[{"x":44100,"y":504,"t":"×10⁴"}]},"mark":{"type":"text","align":"right","baseline":"middle","dy":35,"font":"Liberation Sans","fontSize":14.5,"color":"#404040"},"encoding":{"x":{"field":"x","type":"quantitative","axis":null},"y":{"field":"y","type":"quantitative","axis":null},"text":{"field":"t"}}}
]},
{"width":22.5,"height":218,"view":{"stroke":"#808080"},"data":{"name":"cb24"},"mark":"rect","encoding":{"y":{"field":"lo","type":"quantitative","scale":{"domain":[0,100],"nice":false},"axis":{"orient":"right","values":[0,20,40,60,80,100],"title":null,"domain":false,"tickSize":-3,"labelPadding":9}},"y2":{"field":"hi"},"color":{"field":"v","type":"quantitative","scale":{"type":"quantize","domain":[0,100],"nice":false,"range":["#ffffff","#fffff0","#ffffb0","#ffff80","#ffff40","#ffe020","#ffc000","#ffa000","#ff8000","#ff6000","#ff4000","#ff2010","#ff0040","#d00070","#a000a0","#7000c0","#4000f0","#2000ff","#0000e8","#0000c0","#00009c","#000078","#000048","#000010"]},"legend":null}}},
{"width":113.1,"height":1,"data":{"values":[{"a":0}]},"mark":{"type":"point","opacity":0},"encoding":{}},
{"title":"Bellhop Output with 10000 rays; PLres = 1.514dB","width":426,"height":220.3,"resolve":{"axis":{"x":"independent","y":"independent"}},"layer":[
{"data":{"name":"d"},"mark":{"type":"area","clip":true},"encoding":{"x":{"field":"x","type":"quantitative","scale":{"domain":[0,44100],"nice":false,"zero":false},"axis":{"values":[0,5000,10000,15000,20000,25000,30000,35000,40000],"labelExpr":"datum.value/10000","title":"Range [m]","labelPadding":11,"titlePadding":5,"labelFlush":false}},"y":{"field":"y","type":"quantitative","scale":{"domain":[-7,504],"reverse":true,"nice":false,"zero":false},"axis":{"values":[0,100,200,300,400,500],"title":"Depth [m]","labelPadding":10,"titlePadding":5}},"y2":{"field":"y2"},"detail":{"field":"r"},"color":{"field":"v","type":"quantitative","scale":{"type":"quantize","domain":[0,100],"nice":false,"range":["#ffffff","#ffffa8","#ffff40","#ffc000","#ff8000","#ff4000","#ff0060","#a000a0","#5000ff","#0000a0","#000050","#000000"]},"legend":null}}},
{"data":{"values":[]},"mark":"rect","encoding":{"x":{"field":"x","type":"quantitative","axis":{"orient":"top","values":[0,5000,10000,15000,20000,25000,30000,35000,40000],"labels":false,"title":null}},"y":{"field":"y","type":"quantitative","axis":{"orient":"right","values":[0,100,200,300,400,500],"labels":false,"title":null}}}},
{"data":{"values":[{"x":44100,"y":504,"t":"×10⁴"}]},"mark":{"type":"text","align":"right","baseline":"middle","dy":35,"font":"Liberation Sans","fontSize":14.5,"color":"#404040"},"encoding":{"x":{"field":"x","type":"quantitative","axis":null},"y":{"field":"y","type":"quantitative","axis":null},"text":{"field":"t"}}}
]},
{"width":23,"height":218,"view":{"stroke":"#808080"},"data":{"name":"cb12"},"mark":"rect","encoding":{"y":{"field":"lo","type":"quantitative","scale":{"domain":[0,100],"nice":false},"axis":{"orient":"right","values":[0,20,40,60,80,100],"title":null,"domain":false,"tickSize":-3,"labelPadding":9}},"y2":{"field":"hi"},"color":{"field":"v","type":"quantitative","scale":{"type":"quantize","domain":[0,100],"nice":false,"range":["#ffffff","#ffffa8","#ffff40","#ffc000","#ff8000","#ff4000","#ff0060","#a000a0","#5000ff","#0000a0","#000050","#000000"]},"legend":null}}},
{"width":423,"height":100,"data":{"values":[{"line":1,"part":1,"s":"(c)","b":1},{"line":1,"part":2,"s":"An up-slope scenario with rays captured within","b":0},{"line":2,"part":1,"s":"the surface duct.","b":0}]},"layer":[{"transform":[{"filter":"datum.b==1"}],"mark":{"type":"text","font":"DejaVu Serif","fontSize":20.7,"fontWeight":"bold","align":"left","baseline":"alphabetic","color":"#111111"},"encoding":{"x":{"field":"part","type":"quantitative","scale":{"domain":[1,2],"range":[-71.2,-25],"nice":false,"zero":false},"axis":null},"y":{"field":"line","type":"quantitative","scale":{"domain":[1,2],"range":[80,108],"nice":false,"zero":false},"axis":null},"text":{"field":"s"}}},{"transform":[{"filter":"datum.b==0"}],"mark":{"type":"text","font":"DejaVu Serif","fontSize":20.7,"align":"left","baseline":"alphabetic","color":"#111111"},"encoding":{"x":{"field":"part","type":"quantitative","axis":null},"y":{"field":"line","type":"quantitative","axis":null},"text":{"field":"s"}}}]},
{"width":1,"height":1,"data":{"values":[{"a":0}]},"mark":{"type":"point","opacity":0},"encoding":{}},
{"width":1,"height":1,"data":{"values":[{"a":0}]},"mark":{"type":"point","opacity":0},"encoding":{}},
{"width":426,"height":100,"data":{"values":[{"line":1,"part":1,"s":"(d)","b":1},{"line":1,"part":2,"s":"A shallow negative gradient SSP causing the rays","b":0},{"line":2,"part":1,"s":"to bounce between the bottom and the sonic layer.","b":0}]},"layer":[{"transform":[{"filter":"datum.b==1"}],"mark":{"type":"text","font":"DejaVu Serif","fontSize":20.7,"fontWeight":"bold","align":"left","baseline":"alphabetic","color":"#111111"},"encoding":{"x":{"field":"part","type":"quantitative","scale":{"domain":[1,2],"range":[-69.5,-25.5],"nice":false,"zero":false},"axis":null},"y":{"field":"line","type":"quantitative","scale":{"domain":[1,2],"range":[80,108],"nice":false,"zero":false},"axis":null},"text":{"field":"s"}}},{"transform":[{"filter":"datum.b==0"}],"mark":{"type":"text","font":"DejaVu Serif","fontSize":20.7,"align":"left","baseline":"alphabetic","color":"#111111"},"encoding":{"x":{"field":"part","type":"quantitative","axis":null},"y":{"field":"line","type":"quantitative","axis":null},"text":{"field":"s"}}}]},
{"width":1,"height":1,"data":{"values":[{"a":0}]},"mark":{"type":"point","opacity":0},"encoding":{}}
]}
